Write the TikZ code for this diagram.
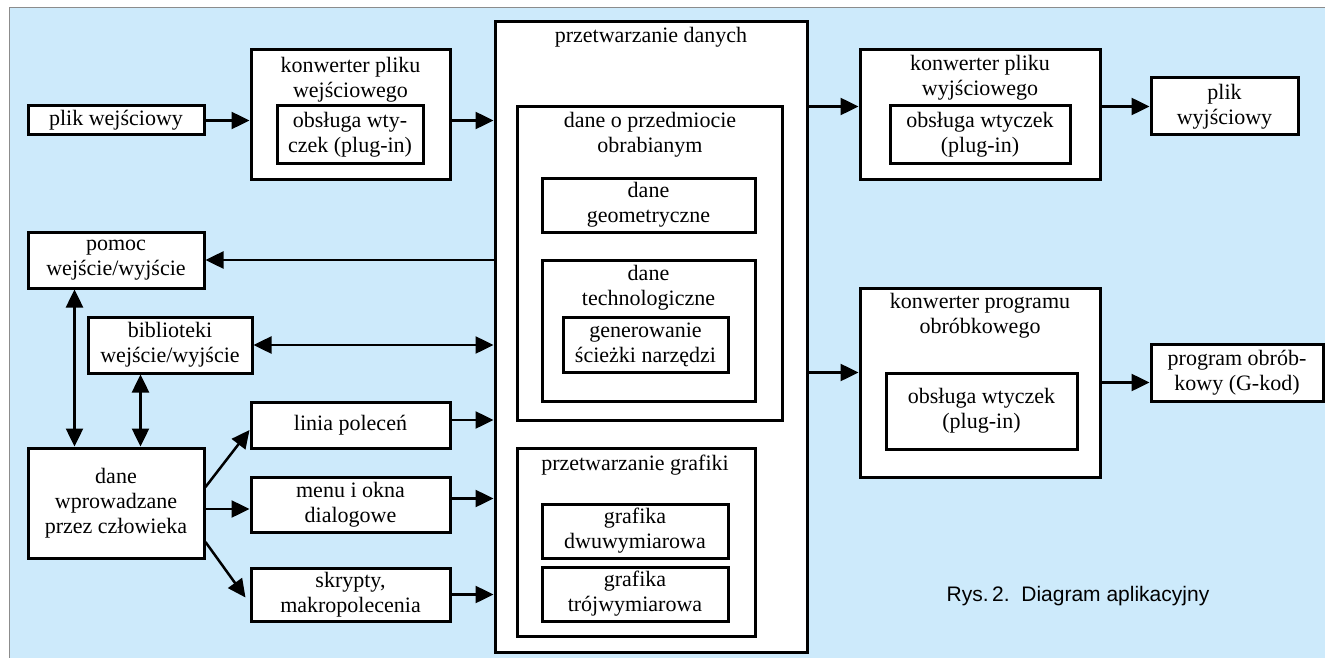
\documentclass[tikz,border=0pt]{standalone}
\usepackage{fontspec}
\setmainfont{Liberation Serif}
\newfontfamily\capfont{Liberation Sans}
\usetikzlibrary{arrows.meta}

\definecolor{panelblue}{RGB}{205,234,251}
\definecolor{framegray}{RGB}{140,140,140}
\newcommand\boxtext{\fontsize{22}{25}\selectfont}

\begin{document}
\begin{tikzpicture}[x=1pt,y=-1pt,
  box/.style={draw, line width=3pt, fill=white, inner sep=0pt, align=center, font=\boxtext},
  title/.style={inner sep=0pt, align=center, font=\boxtext},
  arr/.style={line width=2.5pt, -{Triangle[length=18pt,width=17pt]}},
  dbl/.style={line width=2.5pt, {Triangle[length=18pt,width=17pt]}-{Triangle[length=18pt,width=17pt]}}]

\useasboundingbox (0,0) rectangle (1325,658);
% panel
\fill[panelblue] (9,8) rectangle (1325,658);
\draw[framegray, line width=1pt] (9,658) -- (9,8) -- (1325,8);

% input side
\node[box, minimum width=176pt, minimum height=29pt] (plikwe) at (116,120.5) {plik wejściowy};
\node[box, minimum width=199pt, minimum height=129pt] (konwWe) at (350.5,114.5) {};
\node[title] (konwWeT) at (350.5,79.5) {konwerter pliku\\wejściowego};
\node[box, minimum width=146pt, minimum height=57pt] (konwWeIn) at (350,134.5) {obsługa wty-\\czek (plug-in)};

% central processing block
\node[box, minimum width=312pt, minimum height=630pt] (main) at (651,337) {};
\node[title] (mainT) at (651,37) {przetwarzanie danych};
\node[box, minimum width=265pt, minimum height=313pt] (przedm) at (649.5,263.5) {};
\node[title] (przedmT) at (650,134.5) {dane o przedmiocie\\obrabianym};
\node[box, minimum width=213pt, minimum height=54pt] (geom) at (648.5,205) {dane\\geometryczne};
\node[box, minimum width=213pt, minimum height=141pt] (techno) at (648.5,330.5) {};
\node[title] (technoT) at (648.5,287.5) {dane\\technologiczne};
\node[box, minimum width=165pt, minimum height=55pt] (gener) at (645.5,344.5) {generowanie\\ścieżki narzędzi};
\node[box, minimum width=238pt, minimum height=188pt] (grafika) at (636,542) {};
\node[title] (grafikaT) at (635,465) {przetwarzanie grafiki};
\node[box, minimum width=186pt, minimum height=54pt] (g2d) at (635,531) {grafika\\dwuwymiarowa};
\node[box, minimum width=186pt, minimum height=54pt] (g3d) at (635,594) {grafika\\trójwymiarowa};

% output side
\node[box, minimum width=240pt, minimum height=129pt] (konwWy) at (980,114.5) {};
\node[title] (konwWyT) at (980,77.5) {konwerter pliku\\wyjściowego};
\node[box, minimum width=180pt, minimum height=57pt] (konwWyIn) at (980,134.5) {obsługa wtyczek\\(plug-in)};
\node[box, minimum width=147pt, minimum height=57pt] (plikWy) at (1224.5,106.5) {plik\\wyjściowy};
\node[box, minimum width=240pt, minimum height=189pt] (konwProg) at (980,382.5) {};
\node[title] (konwProgT) at (980,315.5) {konwerter programu\\obróbkowego};
\node[box, minimum width=191pt, minimum height=76pt] (konwProgIn) at (981.5,411) {obsługa wtyczek\\(plug-in)};
\node[box, minimum width=172pt, minimum height=57pt] (progObr) at (1237,372.5) {program obrób-\\kowy (G-kod)};

% user side
\node[box, minimum width=176pt, minimum height=56pt] (pomoc) at (116,260) {pomoc\\wejście/wyjście};
\node[box, minimum width=164pt, minimum height=56pt] (bibl) at (170,345) {biblioteki\\wejście/wyjście};
\node[box, minimum width=176pt, minimum height=110pt] (dane) at (116,503) {dane\\wprowadzane\\przez człowieka};
\node[box, minimum width=199pt, minimum height=46pt] (linia) at (350.5,425) {linia poleceń};
\node[box, minimum width=199pt, minimum height=55pt] (menu) at (350.5,504.5) {menu i okna\\dialogowe};
\node[box, minimum width=199pt, minimum height=53pt] (skrypty) at (350.5,594.5) {skrypty,\\makropolecenia};

\node[font=\capfont\fontsize{21}{25}\selectfont, inner sep=0pt] (cap) at (1078,596) {Rys.\,2.\ \ Diagram aplikacyjny};

% connectors
\draw[arr] (plikwe.east) -- (plikwe.east -| konwWe.west);
\draw[arr] (plikwe.east -| konwWe.east) -- (plikwe.east -| main.west);
\draw[arr] (plikWy.west -| main.east) -- (plikWy.west -| konwWy.west);
\draw[arr] (plikWy.west -| konwWy.east) -- (plikWy.west);
\draw[arr] (progObr.west -| main.east) -- (progObr.west -| konwProg.west);
\draw[arr] (konwProg.east) -- (konwProg.east -| progObr.west);
\draw[arr] (pomoc.east -| main.west) -- (pomoc.east);
\draw[dbl] (bibl.east) -- (bibl.east -| main.west);
\draw[dbl] ([xshift=48pt]pomoc.south west) -- ([xshift=48pt]dane.north west);
\draw[dbl] ([xshift=54pt]bibl.south west) -- ([xshift=54pt]bibl.south west |- dane.north);
\draw[arr] ([yshift=5pt]linia.east) -- ([yshift=5pt]linia.east -| main.west);
\draw[arr] ([yshift=6pt]menu.east) -- ([yshift=6pt]menu.east -| main.west);
\draw[arr] (skrypty.east) -- (skrypty.east -| main.west);
\draw[arr] ([yshift=16pt]dane.east) -- ([yshift=-5pt]linia.west);
\draw[arr] ([yshift=-6pt]dane.east) -- ([yshift=-6pt]dane.east -| menu.west);
\draw[arr] ([yshift=-39pt]dane.east) -- ([shift={(-4pt,-3pt)}]skrypty.west);
\end{tikzpicture}
\end{document}
